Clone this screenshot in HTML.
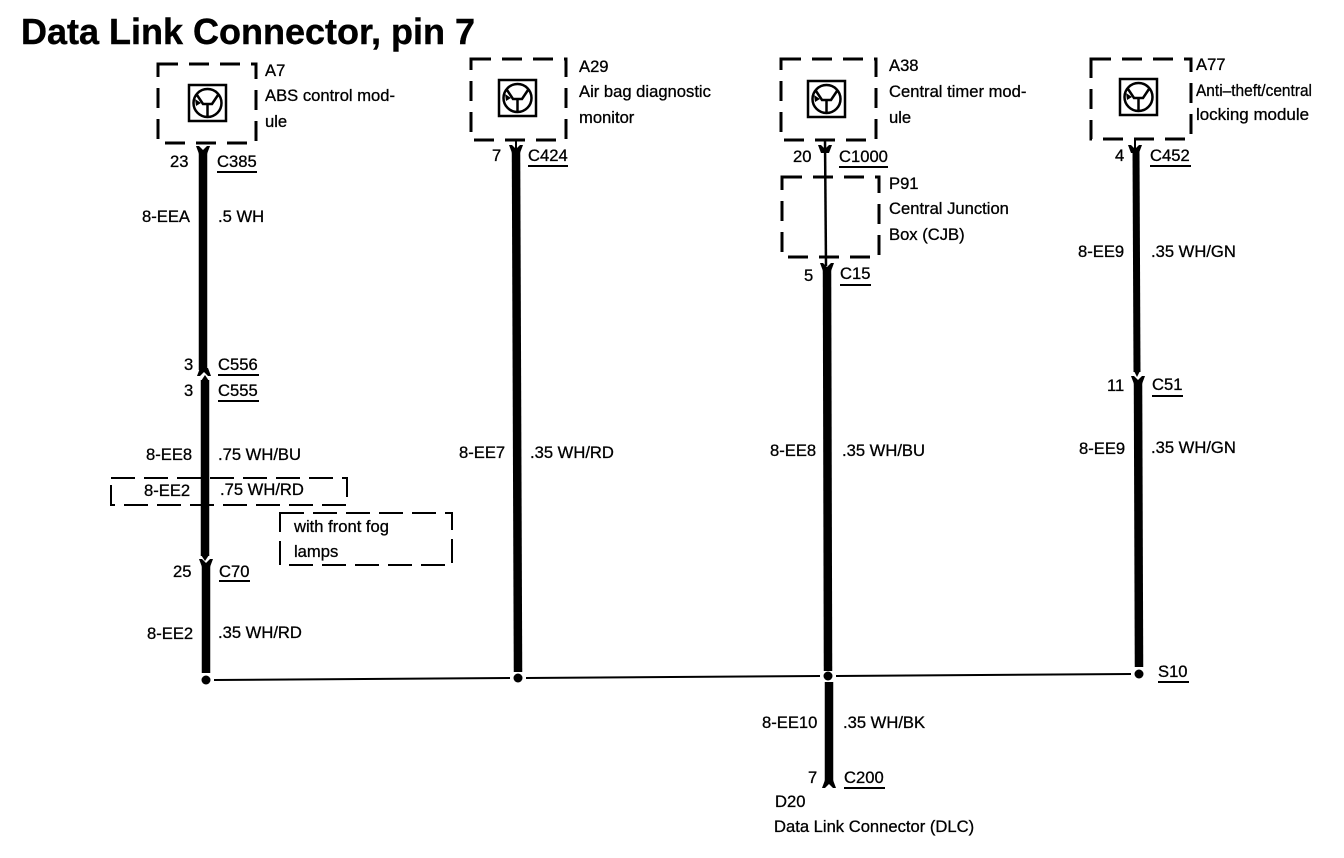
<!DOCTYPE html>
<html><head><meta charset="utf-8"><style>
html,body{margin:0;padding:0;background:#fff}
svg{display:block}
text{font-family:"Liberation Sans",sans-serif;font-size:16.6px;fill:#000;stroke:#000;stroke-width:.3}
.t{font-size:36px;font-weight:bold;stroke-width:.4}
.w{stroke:#000;stroke-width:8.500;fill:none}
.d{stroke:#000;stroke-width:3;fill:none;stroke-dasharray:20 11}
.d2{stroke:#000;stroke-width:2;fill:none;stroke-dasharray:24 9}
.u{stroke:#000;stroke-width:2}
.ic{stroke:#000;stroke-width:2.500;fill:none}
</style></head><body>
<svg width="1344" height="858" viewBox="0 0 1344 858" xmlns="http://www.w3.org/2000/svg">
<defs>
<g id="icon">
<rect x="0" y="0" width="37" height="36" class="ic"/>
<circle cx="18.500" cy="18" r="14" class="ic"/>
<path d="M8 10L14 19H23L29 10M18.500 19V32" class="ic"/>
<path d="M6 14l6 4l-5 3z" fill="#000"/>
</g>
<polygon id="y" points="-7,0 -4,0 0,4 4,0 7,0 4,8 -4,8"/>
<polygon id="yup" points="-7,0 -4,0 0,-4 4,0 7,0 4,-8 -4,-8"/>
</defs>
<text class="t" x="21" y="44">Data Link Connector, pin 7</text>

<!-- Column 1 -->
<rect x="158" y="64" width="98" height="79" class="d"/>
<use href="#icon" x="189" y="85"/>
<text x="265" y="76">A7</text>
<text x="265" y="101">ABS control mod-</text>
<text x="265" y="127">ule</text>
<use href="#y" x="203" y="146"/>
<line x1="203" y1="150" x2="203" y2="370" class="w"/>
<text x="170" y="167">23</text>
<text x="217" y="167">C385</text>
<line x1="217" y1="172" x2="257" y2="172" class="u"/>
<text x="142" y="222">8-EEA</text>
<text x="218" y="222">.5 WH</text>
<text x="184" y="370">3</text>
<text x="218" y="370">C556</text>
<line x1="218" y1="375" x2="259" y2="375" class="u"/>
<use href="#yup" x="204" y="376"/>
<polygon points="205,375 209,381 201,381"/>
<text x="184" y="396">3</text>
<text x="218" y="396">C555</text>
<line x1="218" y1="401" x2="259" y2="401" class="u"/>
<line x1="205" y1="380" x2="205" y2="556" class="w"/>
<polygon points="201,555 209,555 205,561"/>
<text x="146" y="460">8-EE8</text>
<text x="218" y="460">.75 WH/BU</text>
<rect x="111" y="478" width="236" height="27" class="d2"/>
<text x="144" y="496">8-EE2</text>
<text x="220" y="495">.75 WH/RD</text>
<rect x="280" y="513" width="172" height="52" class="d2"/>
<text x="294" y="532">with front fog</text>
<text x="294" y="557">lamps</text>
<text x="173" y="577">25</text>
<text x="219" y="577">C70</text>
<line x1="219" y1="581" x2="250" y2="581" class="u"/>
<use href="#y" x="206" y="559"/>
<line x1="206" y1="566" x2="206" y2="673" class="w"/>
<text x="147" y="639">8-EE2</text>
<text x="218" y="638">.35 WH/RD</text>

<!-- Column 2 -->
<rect x="471" y="59" width="95" height="81" class="d"/>
<use href="#icon" x="499" y="80"/>
<text x="579" y="72">A29</text>
<text x="579" y="97">Air bag diagnostic</text>
<text x="579" y="123">monitor</text>
<use href="#y" x="516" y="145"/>
<line x1="516" y1="140" x2="516" y2="150" class="u"/>
<line x1="516" y1="150" x2="518" y2="672" class="w"/>
<text x="492" y="161">7</text>
<text x="528" y="161">C424</text>
<line x1="528" y1="166" x2="568" y2="166" class="u"/>
<text x="459" y="458">8-EE7</text>
<text x="530" y="458">.35 WH/RD</text>

<!-- Column 3 -->
<rect x="781" y="59" width="95" height="81" class="d"/>
<use href="#icon" x="808" y="81"/>
<text x="889" y="71">A38</text>
<text x="889" y="97">Central timer mod-</text>
<text x="889" y="123">ule</text>
<use href="#y" x="825" y="145"/>
<line x1="825" y1="140" x2="826" y2="266" stroke="#000" stroke-width="2.500"/>
<text x="793" y="162">20</text>
<text x="839" y="162">C1000</text>
<line x1="839" y1="167" x2="888" y2="167" class="u"/>
<rect x="782" y="177" width="97" height="80" class="d"/>
<text x="889" y="189">P91</text>
<text x="889" y="214">Central Junction</text>
<text x="889" y="240">Box (CJB)</text>
<use href="#y" x="827" y="263"/>
<line x1="827" y1="268" x2="828" y2="671" class="w"/>
<text x="804" y="281">5</text>
<text x="840" y="279">C15</text>
<line x1="840" y1="285" x2="871" y2="285" class="u"/>
<text x="770" y="456">8-EE8</text>
<text x="842" y="456">.35 WH/BU</text>

<!-- Column 4 -->
<rect x="1091" y="59" width="100" height="80" class="d"/>
<use href="#icon" x="1120" y="79"/>
<text x="1196" y="70">A77</text>
<text x="1196" y="96" textLength="116" lengthAdjust="spacingAndGlyphs">Anti&#8211;theft/central</text>
<text x="1196" y="120" textLength="113" lengthAdjust="spacingAndGlyphs">locking module</text>
<use href="#y" x="1135" y="145"/>
<line x1="1135" y1="140" x2="1135" y2="150" class="u"/>
<line x1="1136" y1="150" x2="1137" y2="372" class="w" style="stroke-width:7"/>
<polygon points="1134,371 1140,371 1137,377"/>
<text x="1115" y="161">4</text>
<text x="1150" y="161">C452</text>
<line x1="1150" y1="166" x2="1191" y2="166" class="u"/>
<text x="1078" y="257">8-EE9</text>
<text x="1151" y="257">.35 WH/GN</text>
<use href="#y" x="1138" y="376"/>
<line x1="1138" y1="382" x2="1139" y2="667" class="w"/>
<text x="1107" y="391">11</text>
<text x="1152" y="390">C51</text>
<line x1="1152" y1="396" x2="1183" y2="396" class="u"/>
<text x="1079" y="454">8-EE9</text>
<text x="1151" y="453">.35 WH/GN</text>

<!-- Bus -->
<line x1="214" y1="680" x2="510" y2="678" class="u"/>
<line x1="526" y1="678" x2="820" y2="676" class="u"/>
<line x1="836" y1="676" x2="1131" y2="674" class="u"/>
<circle cx="206" cy="680" r="4.500"/>
<circle cx="518" cy="678" r="4.500"/>
<circle cx="828" cy="676" r="4.500"/>
<circle cx="1139" cy="674" r="4.500"/>
<text x="1158" y="677">S10</text>
<line x1="1158" y1="682" x2="1189" y2="682" class="u"/>

<!-- Bottom -->
<line x1="829" y1="682" x2="829" y2="782" class="w"/>
<use href="#yup" x="829" y="788"/>
<text x="762" y="728">8-EE10</text>
<text x="843" y="728">.35 WH/BK</text>
<text x="808" y="783">7</text>
<text x="844" y="783">C200</text>
<line x1="844" y1="788" x2="885" y2="788" class="u"/>
<text x="775" y="807">D20</text>
<text x="774" y="832">Data Link Connector (DLC)</text>
</svg>
</body></html>
